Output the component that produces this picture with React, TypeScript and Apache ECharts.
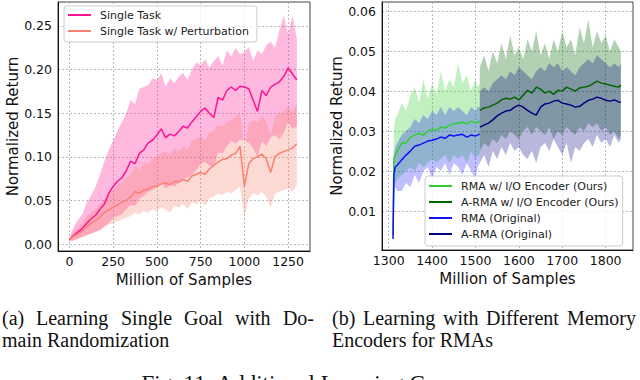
import React, { useEffect, useRef } from 'react';
import * as echarts from 'echarts';

// ---------- Left panel: Single goal with domain randomization ----------
const leftX = [0, 25, 50, 75, 100, 125, 150, 175, 200, 225, 250, 275, 300, 325, 350, 375, 400, 425, 450, 475, 500, 525, 550, 575, 600, 625, 650, 675, 700, 725, 750, 775, 800, 825, 850, 875, 900, 925, 950, 975, 1000, 1025, 1050, 1075, 1100, 1125, 1150, 1175, 1200, 1225, 1250, 1275, 1300];

const singleMean = [0.005, 0.010, 0.014, 0.018, 0.024, 0.029, 0.033, 0.040, 0.046, 0.058, 0.066, 0.072, 0.076, 0.084, 0.095, 0.092, 0.104, 0.108, 0.116, 0.119, 0.125, 0.132, 0.122, 0.126, 0.124, 0.129, 0.135, 0.133, 0.140, 0.146, 0.152, 0.156, 0.150, 0.145, 0.168, 0.165, 0.176, 0.180, 0.176, 0.181, 0.180, 0.178, 0.165, 0.152, 0.176, 0.170, 0.180, 0.183, 0.186, 0.192, 0.202, 0.195, 0.188];
const singleHi = [0.007, 0.020, 0.028, 0.034, 0.048, 0.056, 0.066, 0.080, 0.095, 0.108, 0.118, 0.130, 0.140, 0.150, 0.165, 0.160, 0.178, 0.180, 0.182, 0.190, 0.188, 0.196, 0.180, 0.190, 0.184, 0.192, 0.196, 0.188, 0.200, 0.208, 0.205, 0.212, 0.202, 0.210, 0.215, 0.205, 0.222, 0.215, 0.225, 0.218, 0.220, 0.226, 0.210, 0.222, 0.218, 0.228, 0.232, 0.225, 0.245, 0.262, 0.240, 0.262, 0.235];
const singleLo = [0.003, 0.004, 0.006, 0.008, 0.010, 0.012, 0.014, 0.016, 0.020, 0.024, 0.030, 0.032, 0.034, 0.040, 0.045, 0.044, 0.052, 0.055, 0.060, 0.062, 0.066, 0.070, 0.064, 0.068, 0.066, 0.070, 0.075, 0.076, 0.080, 0.085, 0.092, 0.094, 0.090, 0.088, 0.105, 0.104, 0.112, 0.118, 0.115, 0.120, 0.118, 0.116, 0.110, 0.100, 0.118, 0.112, 0.122, 0.125, 0.120, 0.128, 0.140, 0.132, 0.135];

const pertMean = [0.005, 0.009, 0.012, 0.015, 0.020, 0.024, 0.027, 0.031, 0.036, 0.039, 0.042, 0.045, 0.048, 0.050, 0.054, 0.060, 0.058, 0.062, 0.063, 0.066, 0.066, 0.069, 0.070, 0.068, 0.072, 0.071, 0.074, 0.072, 0.078, 0.080, 0.082, 0.080, 0.086, 0.090, 0.094, 0.097, 0.098, 0.102, 0.104, 0.112, 0.066, 0.092, 0.098, 0.100, 0.103, 0.098, 0.082, 0.100, 0.104, 0.106, 0.108, 0.110, 0.115];
const pertHi = [0.006, 0.014, 0.020, 0.024, 0.032, 0.036, 0.040, 0.046, 0.052, 0.058, 0.062, 0.068, 0.070, 0.076, 0.080, 0.090, 0.085, 0.094, 0.092, 0.098, 0.100, 0.104, 0.106, 0.102, 0.110, 0.106, 0.112, 0.108, 0.118, 0.120, 0.124, 0.118, 0.128, 0.130, 0.136, 0.135, 0.140, 0.142, 0.146, 0.150, 0.110, 0.138, 0.142, 0.140, 0.148, 0.140, 0.125, 0.146, 0.150, 0.152, 0.158, 0.150, 0.162];
const pertLo = [0.004, 0.005, 0.006, 0.008, 0.010, 0.012, 0.014, 0.016, 0.020, 0.022, 0.024, 0.026, 0.028, 0.030, 0.032, 0.036, 0.034, 0.038, 0.036, 0.040, 0.038, 0.042, 0.040, 0.036, 0.044, 0.042, 0.046, 0.040, 0.048, 0.046, 0.050, 0.044, 0.052, 0.054, 0.058, 0.056, 0.060, 0.058, 0.062, 0.066, 0.030, 0.052, 0.058, 0.056, 0.060, 0.054, 0.042, 0.058, 0.060, 0.062, 0.064, 0.060, 0.068];

const leftXTicks = [0, 250, 500, 750, 1000, 1250];
const leftYTicks = [0, 0.05, 0.1, 0.15, 0.2, 0.25];

// ---------- Right panel: memory encoders for RMAs ----------
const rmaX = [1310, 1312, 1315, 1320, 1330, 1340, 1350, 1360, 1370, 1380, 1390, 1400, 1410, 1420, 1430, 1440, 1450, 1460, 1470, 1480, 1490, 1500, 1505, 1510];

const rmaIoMean = [0.004, 0.023, 0.024, 0.025, 0.027, 0.027, 0.0285, 0.029, 0.0295, 0.029, 0.030, 0.0305, 0.0302, 0.031, 0.0308, 0.0315, 0.0318, 0.032, 0.0322, 0.0318, 0.0325, 0.032, 0.0322, 0.0325];
const rmaIoHi = [0.006, 0.030, 0.033, 0.034, 0.037, 0.035, 0.039, 0.041, 0.037, 0.043, 0.038, 0.042, 0.039, 0.045, 0.040, 0.043, 0.041, 0.047, 0.042, 0.044, 0.040, 0.043, 0.041, 0.042];
const rmaIoLo = [0.002, 0.016, 0.017, 0.018, 0.019, 0.020, 0.021, 0.020, 0.022, 0.021, 0.022, 0.023, 0.022, 0.023, 0.024, 0.022, 0.024, 0.023, 0.024, 0.022, 0.025, 0.023, 0.024, 0.024];

const rmaMean = [0.003, 0.019, 0.021, 0.0215, 0.0228, 0.024, 0.025, 0.0262, 0.0265, 0.027, 0.0275, 0.0277, 0.028, 0.0285, 0.0282, 0.029, 0.0288, 0.029, 0.0292, 0.0285, 0.029, 0.0288, 0.029, 0.0293];
const rmaHi = [0.004, 0.024, 0.026, 0.027, 0.029, 0.030, 0.031, 0.033, 0.032, 0.034, 0.033, 0.035, 0.034, 0.036, 0.034, 0.036, 0.035, 0.036, 0.035, 0.034, 0.036, 0.035, 0.036, 0.036];
const rmaLo = [0.002, 0.013, 0.016, 0.015, 0.015, 0.017, 0.016, 0.019, 0.017, 0.020, 0.021, 0.018, 0.021, 0.020, 0.022, 0.019, 0.022, 0.021, 0.019, 0.022, 0.020, 0.018, 0.021, 0.022];

const armaX = [1510, 1520, 1530, 1540, 1550, 1560, 1570, 1580, 1590, 1600, 1610, 1620, 1630, 1640, 1650, 1660, 1670, 1680, 1690, 1700, 1710, 1720, 1730, 1740, 1750, 1760, 1770, 1780, 1790, 1800, 1810, 1820, 1830, 1835];

const armaIoMean = [0.0352, 0.0358, 0.036, 0.0365, 0.037, 0.0378, 0.0382, 0.038, 0.0385, 0.0378, 0.039, 0.0402, 0.0395, 0.041, 0.0405, 0.0395, 0.040, 0.0392, 0.0402, 0.040, 0.041, 0.0405, 0.040, 0.0408, 0.041, 0.0412, 0.0418, 0.0425, 0.042, 0.0418, 0.0415, 0.0412, 0.041, 0.0415];
const armaIoHi = [0.046, 0.049, 0.045, 0.050, 0.047, 0.052, 0.048, 0.054, 0.049, 0.051, 0.048, 0.053, 0.050, 0.055, 0.049, 0.052, 0.048, 0.053, 0.050, 0.055, 0.051, 0.053, 0.049, 0.056, 0.052, 0.058, 0.051, 0.055, 0.052, 0.054, 0.050, 0.053, 0.051, 0.050];
const armaIoLo = [0.025, 0.027, 0.026, 0.028, 0.027, 0.029, 0.028, 0.030, 0.029, 0.028, 0.030, 0.031, 0.029, 0.031, 0.030, 0.029, 0.031, 0.028, 0.030, 0.029, 0.031, 0.030, 0.029, 0.031, 0.030, 0.032, 0.031, 0.032, 0.030, 0.031, 0.029, 0.030, 0.028, 0.029];

const armaMean = [0.031, 0.0315, 0.032, 0.0328, 0.0338, 0.0345, 0.035, 0.0352, 0.036, 0.0365, 0.036, 0.0352, 0.0345, 0.034, 0.036, 0.0368, 0.037, 0.0375, 0.0377, 0.037, 0.0368, 0.0365, 0.036, 0.0362, 0.037, 0.0377, 0.038, 0.0385, 0.0382, 0.0377, 0.0375, 0.0378, 0.0373, 0.0372];
const armaHi = [0.040, 0.041, 0.040, 0.042, 0.043, 0.044, 0.043, 0.045, 0.044, 0.046, 0.045, 0.044, 0.043, 0.045, 0.046, 0.045, 0.047, 0.046, 0.047, 0.045, 0.046, 0.045, 0.044, 0.046, 0.047, 0.048, 0.047, 0.049, 0.048, 0.047, 0.046, 0.047, 0.046, 0.047];
const armaLo = [0.022, 0.024, 0.021, 0.025, 0.023, 0.026, 0.024, 0.027, 0.025, 0.026, 0.024, 0.023, 0.025, 0.022, 0.026, 0.027, 0.025, 0.028, 0.026, 0.024, 0.027, 0.022, 0.026, 0.025, 0.027, 0.028, 0.026, 0.029, 0.027, 0.028, 0.026, 0.029, 0.027, 0.028];

const rightXTicks = [1300, 1400, 1500, 1600, 1700, 1800];
const rightYTicks = [0.01, 0.02, 0.03, 0.04, 0.05, 0.06];

const SANS = '"DejaVu Sans", sans-serif';

function pairs(xs: number[], ys: number[]) {
  return xs.map((x, i) => [x, ys[i]]);
}

// Shaded band between lo and hi, drawn as one polygon through the axis scales (api.coord)
function band(id: string, gi: number, xs: number[], lo: number[], hi: number[], color: string) {
  return {
    type: 'custom', name: id, xAxisIndex: gi, yAxisIndex: gi, silent: true, z: 1, clip: true,
    data: xs.map((x, i) => [x, lo[i], hi[i]]),
    encode: { x: 0, y: [1, 2] },
    renderItem: (params: any, api: any) => {
      if (params.dataIndex !== 0) return null;
      const pts: number[][] = [];
      for (let j = 0; j < xs.length; j++) pts.push(api.coord([xs[j], hi[j]]));
      for (let j = xs.length - 1; j >= 0; j--) pts.push(api.coord([xs[j], lo[j]]));
      return { type: 'polygon', shape: { points: pts }, style: { fill: color, stroke: 'none' } };
    },
  };
}

function meanLine(name: string, gi: number, xs: number[], ys: number[], color: string) {
  return {
    type: 'line', name, xAxisIndex: gi, yAxisIndex: gi, data: pairs(xs, ys),
    symbol: 'none', color, z: 3, lineStyle: { color, width: 1.5 },
  };
}

const splitLine = { show: true, lineStyle: { color: '#a8a8a8', type: [2, 2], width: 0.8 } };
const axisLineStyle = { show: true, onZero: false, lineStyle: { color: '#111', width: 1 } };

function xAxisCfg(gi: number, min: number, max: number, ticks: number[]) {
  return {
    type: 'value', gridIndex: gi, min, max,
    name: 'Million of Samples', nameLocation: 'middle', nameGap: 18,
    nameTextStyle: { fontFamily: SANS, fontSize: 15, color: '#111' },
    axisLine: axisLineStyle,
    axisTick: { show: false, customValues: ticks },
    axisLabel: { customValues: ticks, fontFamily: SANS, fontSize: 12.5, color: '#111', margin: 4, formatter: (v: number) => String(v) },
    splitLine,
  };
}

function yAxisCfg(gi: number, min: number, max: number, ticks: number[], gap: number) {
  return {
    type: 'value', gridIndex: gi, min, max,
    name: 'Normalized Return', nameLocation: 'middle', nameGap: gap,
    nameTextStyle: { fontFamily: SANS, fontSize: 15, color: '#111' },
    axisLine: axisLineStyle,
    axisTick: { show: false, customValues: ticks },
    axisLabel: { customValues: ticks, fontFamily: SANS, fontSize: 12.5, color: '#111', margin: 6, formatter: (v: number) => v.toFixed(2) },
    splitLine,
  };
}

function legendCfg(names: string[], left: number, top: number, padding: number[]) {
  return {
    data: names, orient: 'vertical', left, top, padding,
    icon: 'rect', itemWidth: 23, itemHeight: 2, itemGap: 2,
    backgroundColor: 'rgba(255,255,255,0.8)', borderColor: '#cccccc', borderWidth: 1, borderRadius: 3,
    textStyle: { fontFamily: SANS, fontSize: 11, color: '#222', lineHeight: 14, padding: [0, 0, 0, 4] },
    selectedMode: false,
  };
}

function word(text: string, x: number, y: number, size: number, align = 'left') {
  return {
    type: 'text', x, y, silent: true,
    style: { text, fontFamily: 'Liberation Serif', fontSize: size, fill: '#111', align, verticalAlign: 'middle' },
  };
}

export default function App() {
  const ref = useRef<HTMLDivElement>(null);
  useEffect(() => {
    const chart = echarts.init(ref.current!, null, { renderer: 'svg' });
    const option: any = {
      animation: false,
      backgroundColor: '#ffffff',
      grid: [
        { left: 58, top: 2, width: 252, height: 249, show: true, borderColor: '#444', borderWidth: 1, backgroundColor: 'transparent' },
        { left: 382, top: 2, width: 251, height: 248, show: true, borderColor: '#444', borderWidth: 1, backgroundColor: 'transparent' },
      ],
      xAxis: [
        xAxisCfg(0, -65, 1375, leftXTicks),
        xAxisCfg(1, 1284.6, 1863, rightXTicks),
      ],
      yAxis: [
        yAxisCfg(0, -0.008, 0.2775, leftYTicks, 35),
        yAxisCfg(1, 0.00025, 0.0623, rightYTicks, 37),
      ],
      legend: [
        legendCfg(['Single Task', 'Single Task w/ Perturbation'], 64, 6, [2, 8, 4, 4]),
        legendCfg(['RMA w/ I/O Encoder (Ours)', 'A-RMA w/ I/O Encoder (Ours)', 'RMA (Original)', 'A-RMA (Original)'], 425, 176, [3, 4, 5, 4]),
      ],
      series: [
        band('st', 0, leftX, singleLo, singleHi, 'rgba(255,20,147,0.3)'),
        band('sp', 0, leftX, pertLo, pertHi, 'rgba(250,128,114,0.3)'),
        meanLine('Single Task', 0, leftX, singleMean, '#ff1493'),
        meanLine('Single Task w/ Perturbation', 0, leftX, pertMean, '#fa8072'),
        band('rio', 1, rmaX, rmaIoLo, rmaIoHi, 'rgba(50,205,50,0.3)'),
        band('aio', 1, armaX, armaIoLo, armaIoHi, 'rgba(0,100,0,0.3)'),
        band('r', 1, rmaX, rmaLo, rmaHi, 'rgba(0,0,255,0.25)'),
        band('a', 1, armaX, armaLo, armaHi, 'rgba(0,0,128,0.28)'),
        meanLine('RMA w/ I/O Encoder (Ours)', 1, rmaX, rmaIoMean, '#32cd32'),
        meanLine('A-RMA w/ I/O Encoder (Ours)', 1, armaX, armaIoMean, '#006400'),
        meanLine('RMA (Original)', 1, rmaX, rmaMean, '#1010ff'),
        meanLine('A-RMA (Original)', 1, armaX, armaMean, '#000080'),
      ],
      graphic: [
        word('(a)', 2, 318, 20),
        word('Learning', 36, 318, 20),
        word('Single', 121, 318, 20),
        word('Goal', 184, 318, 20),
        word('with', 235, 318, 20),
        word('Do-', 314, 318, 20, 'right'),
        word('main Randomization', 2, 340, 20),
        word('(b)', 332, 318, 20),
        word('Learning', 363, 318, 20),
        word('with', 443, 318, 20),
        word('Different', 486, 318, 20),
        word('Memory', 636, 318, 20, 'right'),
        word('Encoders for RMAs', 332, 340, 20),
        word('Fig. 11: Additional Learning Curves', 308, 383, 23, 'center'),
      ],
    };
    chart.setOption(option);
    return () => chart.dispose();
  }, []);
  return <div ref={ref} style={{ position: 'fixed', left: 0, top: 0, width: 640, height: 380, background: '#fff' }} />;
}
